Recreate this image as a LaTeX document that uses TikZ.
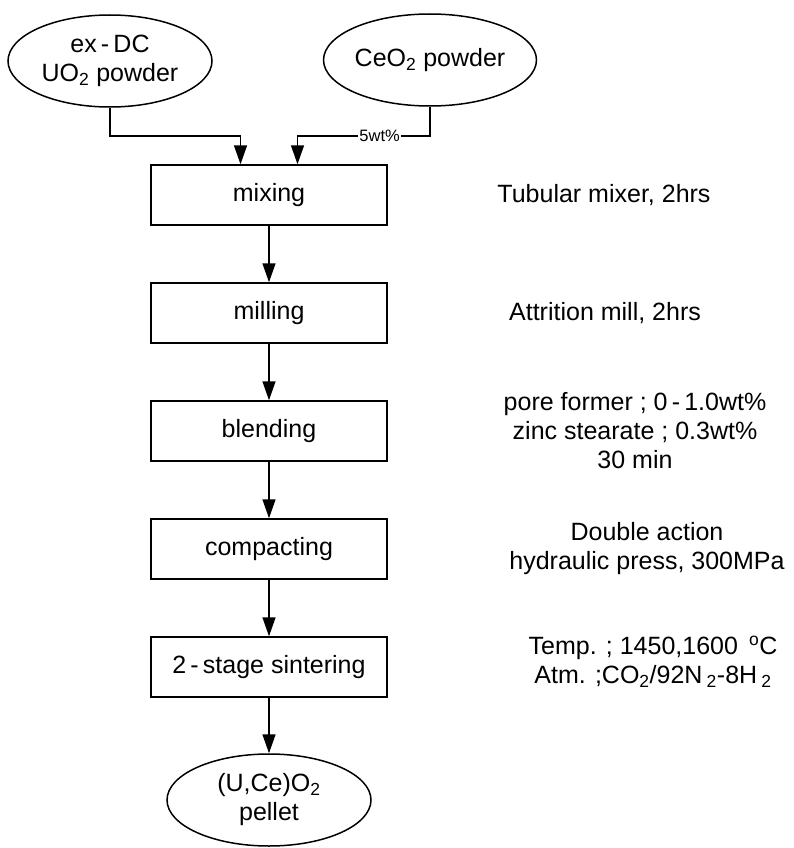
\documentclass[tikz,border=0pt]{standalone}
\usepackage{fontspec}
\setmainfont{Liberation Sans}
\usetikzlibrary{arrows.meta,shapes.geometric}

\begin{document}
\begin{tikzpicture}[node distance=118pt,
    font=\fontsize{25}{29}\selectfont,
    line width=1.5pt,
    stepbox/.style={draw, minimum width=236pt, minimum height=60pt, inner sep=0pt},
    powder/.style={draw, ellipse, minimum width=204pt, minimum height=92pt, inner sep=0pt, align=center},
    note/.style={align=center, inner sep=0pt},
    arr/.style={-{Triangle[length=19pt,width=13pt]}}]
    \useasboundingbox (0,0) rectangle (794pt,-848pt);
    \node (uo2) [powder] at (110pt,-61pt) {ex\,-\,DC\\UO\textsubscript{2} powder};
    \node (ceo2) [powder] at (430pt,-60pt) {CeO\textsubscript{2} powder};
    \node (mix) [stepbox] at (269pt,-195pt) {mixing};
    \node (mill) [stepbox, below of=mix] {milling};
    \node (blend) [stepbox, below of=mill] {blending};
    \node (compact) [stepbox, below of=blend] {compacting};
    \node (sinter) [stepbox, below of=compact] {2\,-\,stage sintering};
    \node (pellet) [powder, below of=sinter, node distance=133pt] {(U,Ce)O\textsubscript{2}\\pellet};
    % process conditions
    \node (mixnote) [note, right of=mix, node distance=335pt] {Tubular mixer, 2hrs};
    \node (millnote) [note, right of=mill, node distance=336pt] {Attrition mill, 2hrs};
    \node (blendnote) [note, right of=blend, node distance=366pt]
        {pore former ; 0\,-\,1.0wt\%\\zinc stearate ; 0.3wt\%\\30 min};
    \node (compactnote) [note, right of=compact, node distance=378pt]
        {Double action\\hydraulic press, 300MPa};
    \node (sinternote) [note, right of=sinter, node distance=384pt, yshift=5pt]
        {Temp. ; 1450,1600\ \,\textsuperscript{o}C\\
         Atm. ;CO\textsubscript{2}/92N\,\textsubscript{2}-8H\,\textsubscript{2}};
    % inputs
    \coordinate (inL) at ([xshift=-28.5pt]mix.north);
    \coordinate (inR) at ([xshift=28.5pt]mix.north);
    \draw[arr] (uo2.south) -- ++(0,-28pt) -| (inL);
    \draw[arr] (ceo2.south) -- ++(0,-29pt) -| node[pos=0.19, fill=white, inner sep=1pt,
        font=\fontsize{16.5}{18}\selectfont] {5wt\%} (inR);
    % main line
    \draw[arr] (mix) -- (mill);
    \draw[arr] (mill) -- (blend);
    \draw[arr] (blend) -- (compact);
    \draw[arr] (compact) -- (sinter);
    \draw[arr] (sinter) -- (pellet);
\end{tikzpicture}
\end{document}
